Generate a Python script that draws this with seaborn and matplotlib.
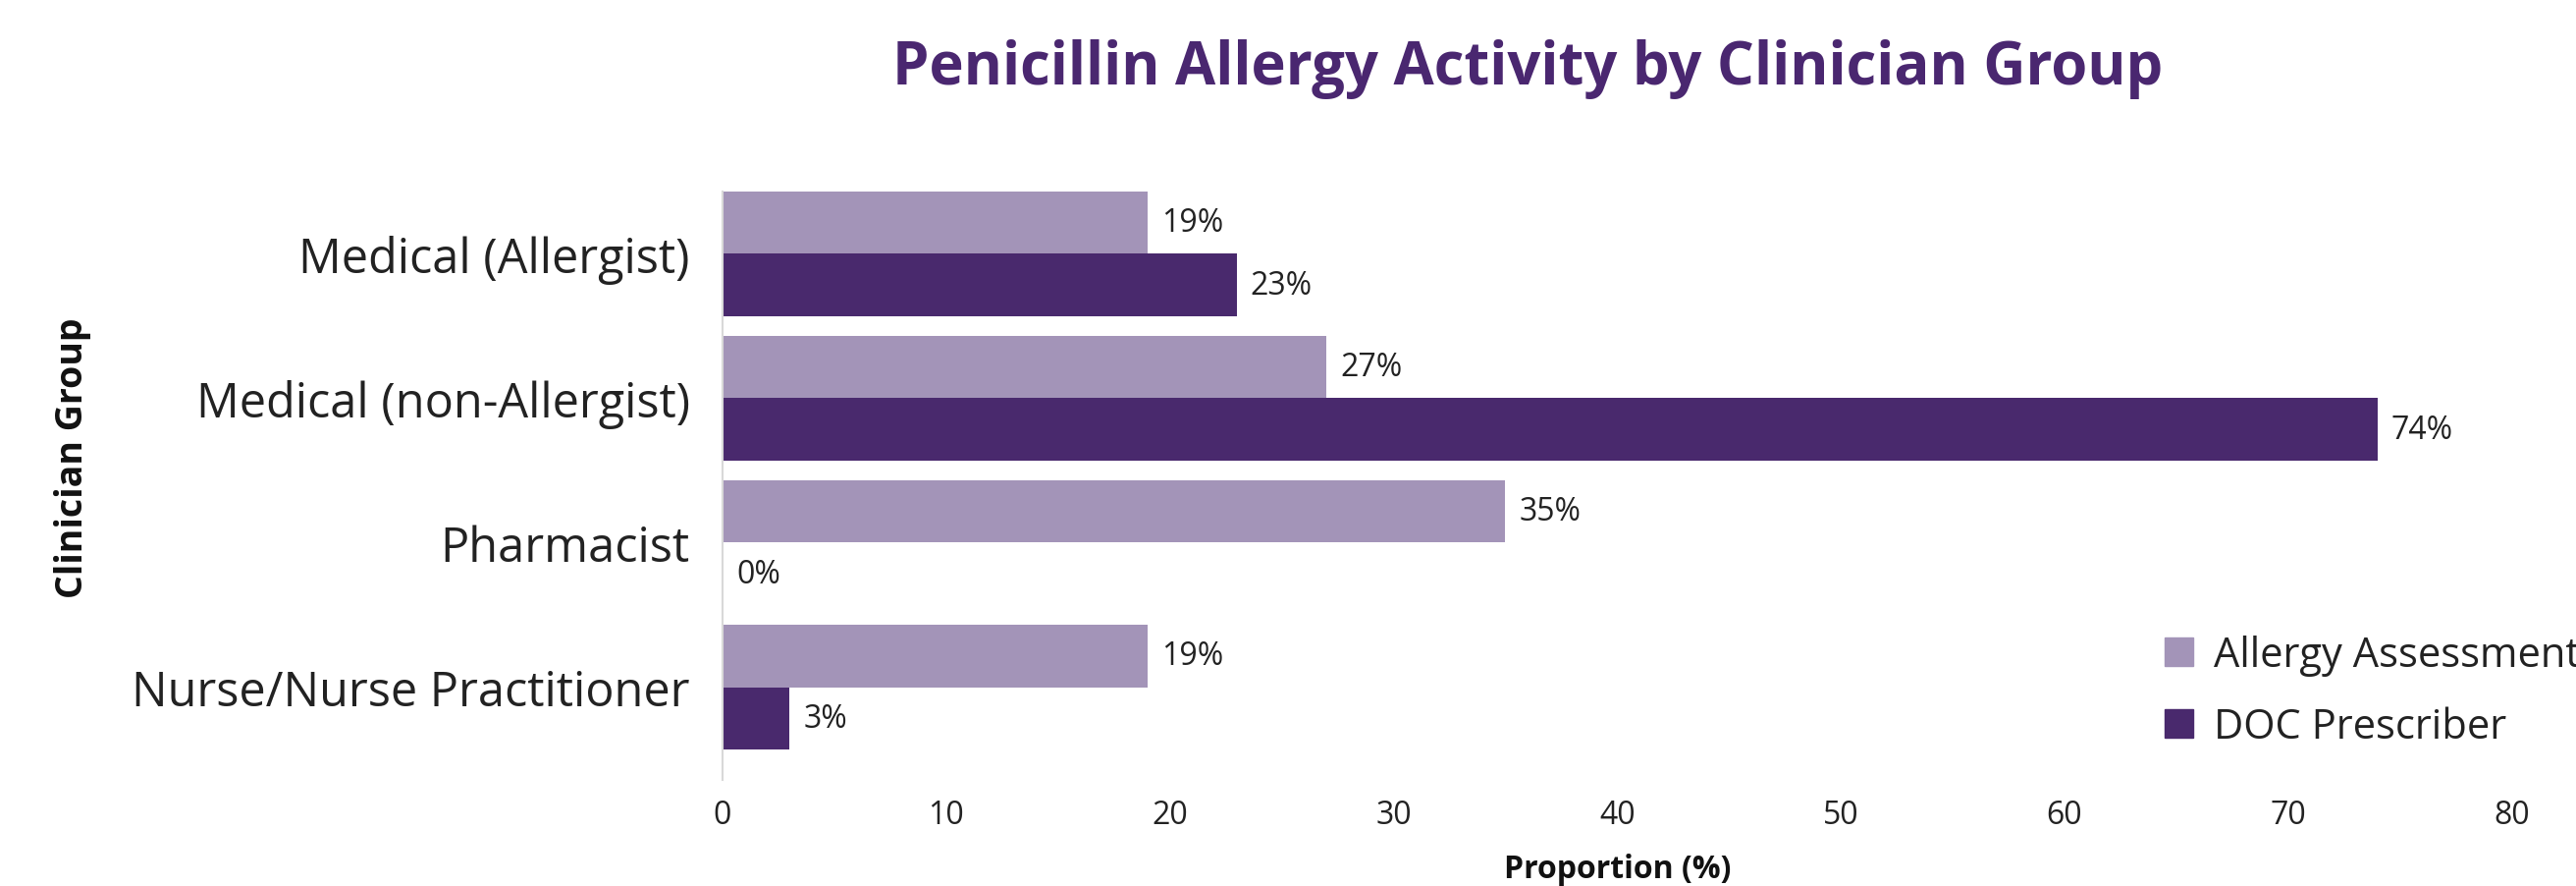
import pandas as pd
import matplotlib
matplotlib.use("Agg")
import matplotlib.pyplot as plt
import seaborn as sns

groups = ["Medical (Allergist)", "Medical (non-Allergist)", "Pharmacist",
          "Nurse/Nurse Practitioner"]
series = ["Allergy Assessment", "DOC Prescriber"]
allergy_assessment = [19, 27, 35, 19]
doc_prescriber = [23, 74, 0, 3]
x_ticks = [0, 10, 20, 30, 40, 50, 60, 70, 80]

LIGHT = "#a394b8"
DARK = "#49296d"
TITLE_COL = "#4a2770"

sns.set_theme(style="white")
plt.rcParams["font.family"] = ["Open Sans", "DejaVu Sans"]

df = pd.DataFrame({
    "group": groups * 2,
    "series": [series[0]] * 4 + [series[1]] * 4,
    "value": allergy_assessment + doc_prescriber,
})

fig = plt.figure(figsize=(26.24, 9.03), dpi=100)
ax = fig.add_axes([0.2805, 0.12, 0.6945, 0.663])
sns.barplot(data=df, y="group", x="value", hue="series", orient="h",
            palette=[LIGHT, DARK], width=0.863, saturation=1, ax=ax,
            legend=False, linewidth=0)

for cont in ax.containers:
    ax.bar_label(cont, labels=[f"{v:.0f}%" for v in cont.datavalues],
                 padding=10, fontsize=23, color="#222222")

ax.set_xlim(0, 80)
ax.set_ylim(3.64, -0.431)
ax.set_xticks(x_ticks)
ax.set_xticklabels([str(t) for t in x_ticks], fontsize=23, color="#222222")
ax.tick_params(axis="x", length=0, pad=14)
ax.tick_params(axis="y", length=0, pad=24, labelsize=35, labelcolor="#222222")
ax.set_xlabel("Proportion (%)", fontsize=23, fontweight="bold", labelpad=16,
              color="#111111")
ax.set_ylabel("Clinician Group", fontsize=27, fontweight="bold", color="#111111")
ax.yaxis.set_label_coords(-0.353, 0.548)
for s in ["top", "right", "bottom"]:
    ax.spines[s].set_visible(False)
ax.spines["left"].set_color("#d9d9d9")
ax.spines["left"].set_linewidth(1.5)

fig.suptitle("Penicillin Allergy Activity by Clinician Group", x=0.593, y=0.922,
             va="center", fontsize=43, fontweight="bold", color=TITLE_COL)

handles = [plt.Rectangle((0, 0), 1, 1, color=c) for c in (LIGHT, DARK)]
fig.legend(handles, series, loc="upper left", bbox_to_anchor=(0.826, 0.325),
           frameon=False, fontsize=30, handlelength=0.7, handleheight=0.7,
           handletextpad=0.5, labelspacing=0.75, labelcolor="#222222")

fig.savefig("out.png", dpi=100)
